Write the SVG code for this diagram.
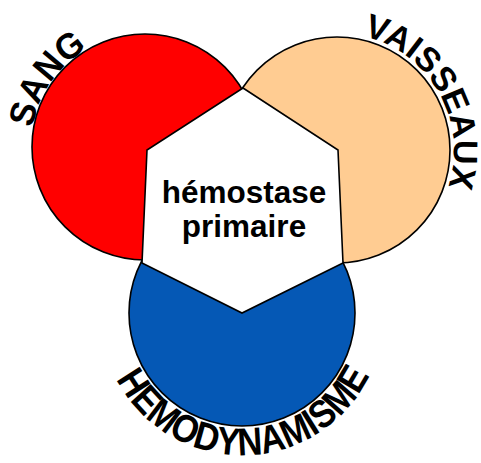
<svg xmlns="http://www.w3.org/2000/svg" width="481" height="463" viewBox="0 0 481 463">
<style>
.c{stroke:#000;stroke-width:1.6}
.lbl{font-family:"Liberation Sans",Arial,sans-serif;font-weight:bold;fill:#000}
.ctr{font-family:"Liberation Sans",Arial,sans-serif;font-weight:bold;font-size:31.5px;fill:#000;text-anchor:middle}
</style>
<defs>
<path id="pSang" d="M 31 147 A 114 114 0 0 1 145 33"/>
<path id="pVais" d="M 297 40.1 A 117 117 0 0 1 412.2 239.6"/>
<path id="pHemo" d="M 102.2 288.3 A 142 142 0 1 0 381.8 288.3"/>
</defs>
<rect width="481" height="463" fill="#fff"/>
<g id="sang">
<circle class="c" cx="145" cy="147" r="113" fill="#FF0000"/>
<text class="lbl" font-size="36"><textPath href="#pSang" startOffset="69" text-anchor="middle" textLength="100" lengthAdjust="spacingAndGlyphs">SANG</textPath></text>
</g>
<g id="vaisseaux">
<circle class="c" cx="337" cy="150" r="113" fill="#FFCC92"/>
<text class="lbl" font-size="34"><textPath href="#pVais" startOffset="164" text-anchor="middle" textLength="194" lengthAdjust="spacingAndGlyphs">VAISSEAUX</textPath></text>
</g>
<g id="hemodynamisme">
<circle class="c" cx="242" cy="313" r="113" fill="#0558B5"/>
<text class="lbl" font-size="39"><textPath href="#pHemo" startOffset="250" text-anchor="middle" textLength="313" lengthAdjust="spacingAndGlyphs">HEMODYNAMISME</textPath></text>
</g>
<g id="hemostase">
<polygon class="c" points="243,88 338,150 343,263 242,313 142,263 147,150" fill="#fff"/>
<text class="ctr" x="244" y="203">hémostase</text>
<text class="ctr" x="244" y="237">primaire</text>
</g>
</svg>
